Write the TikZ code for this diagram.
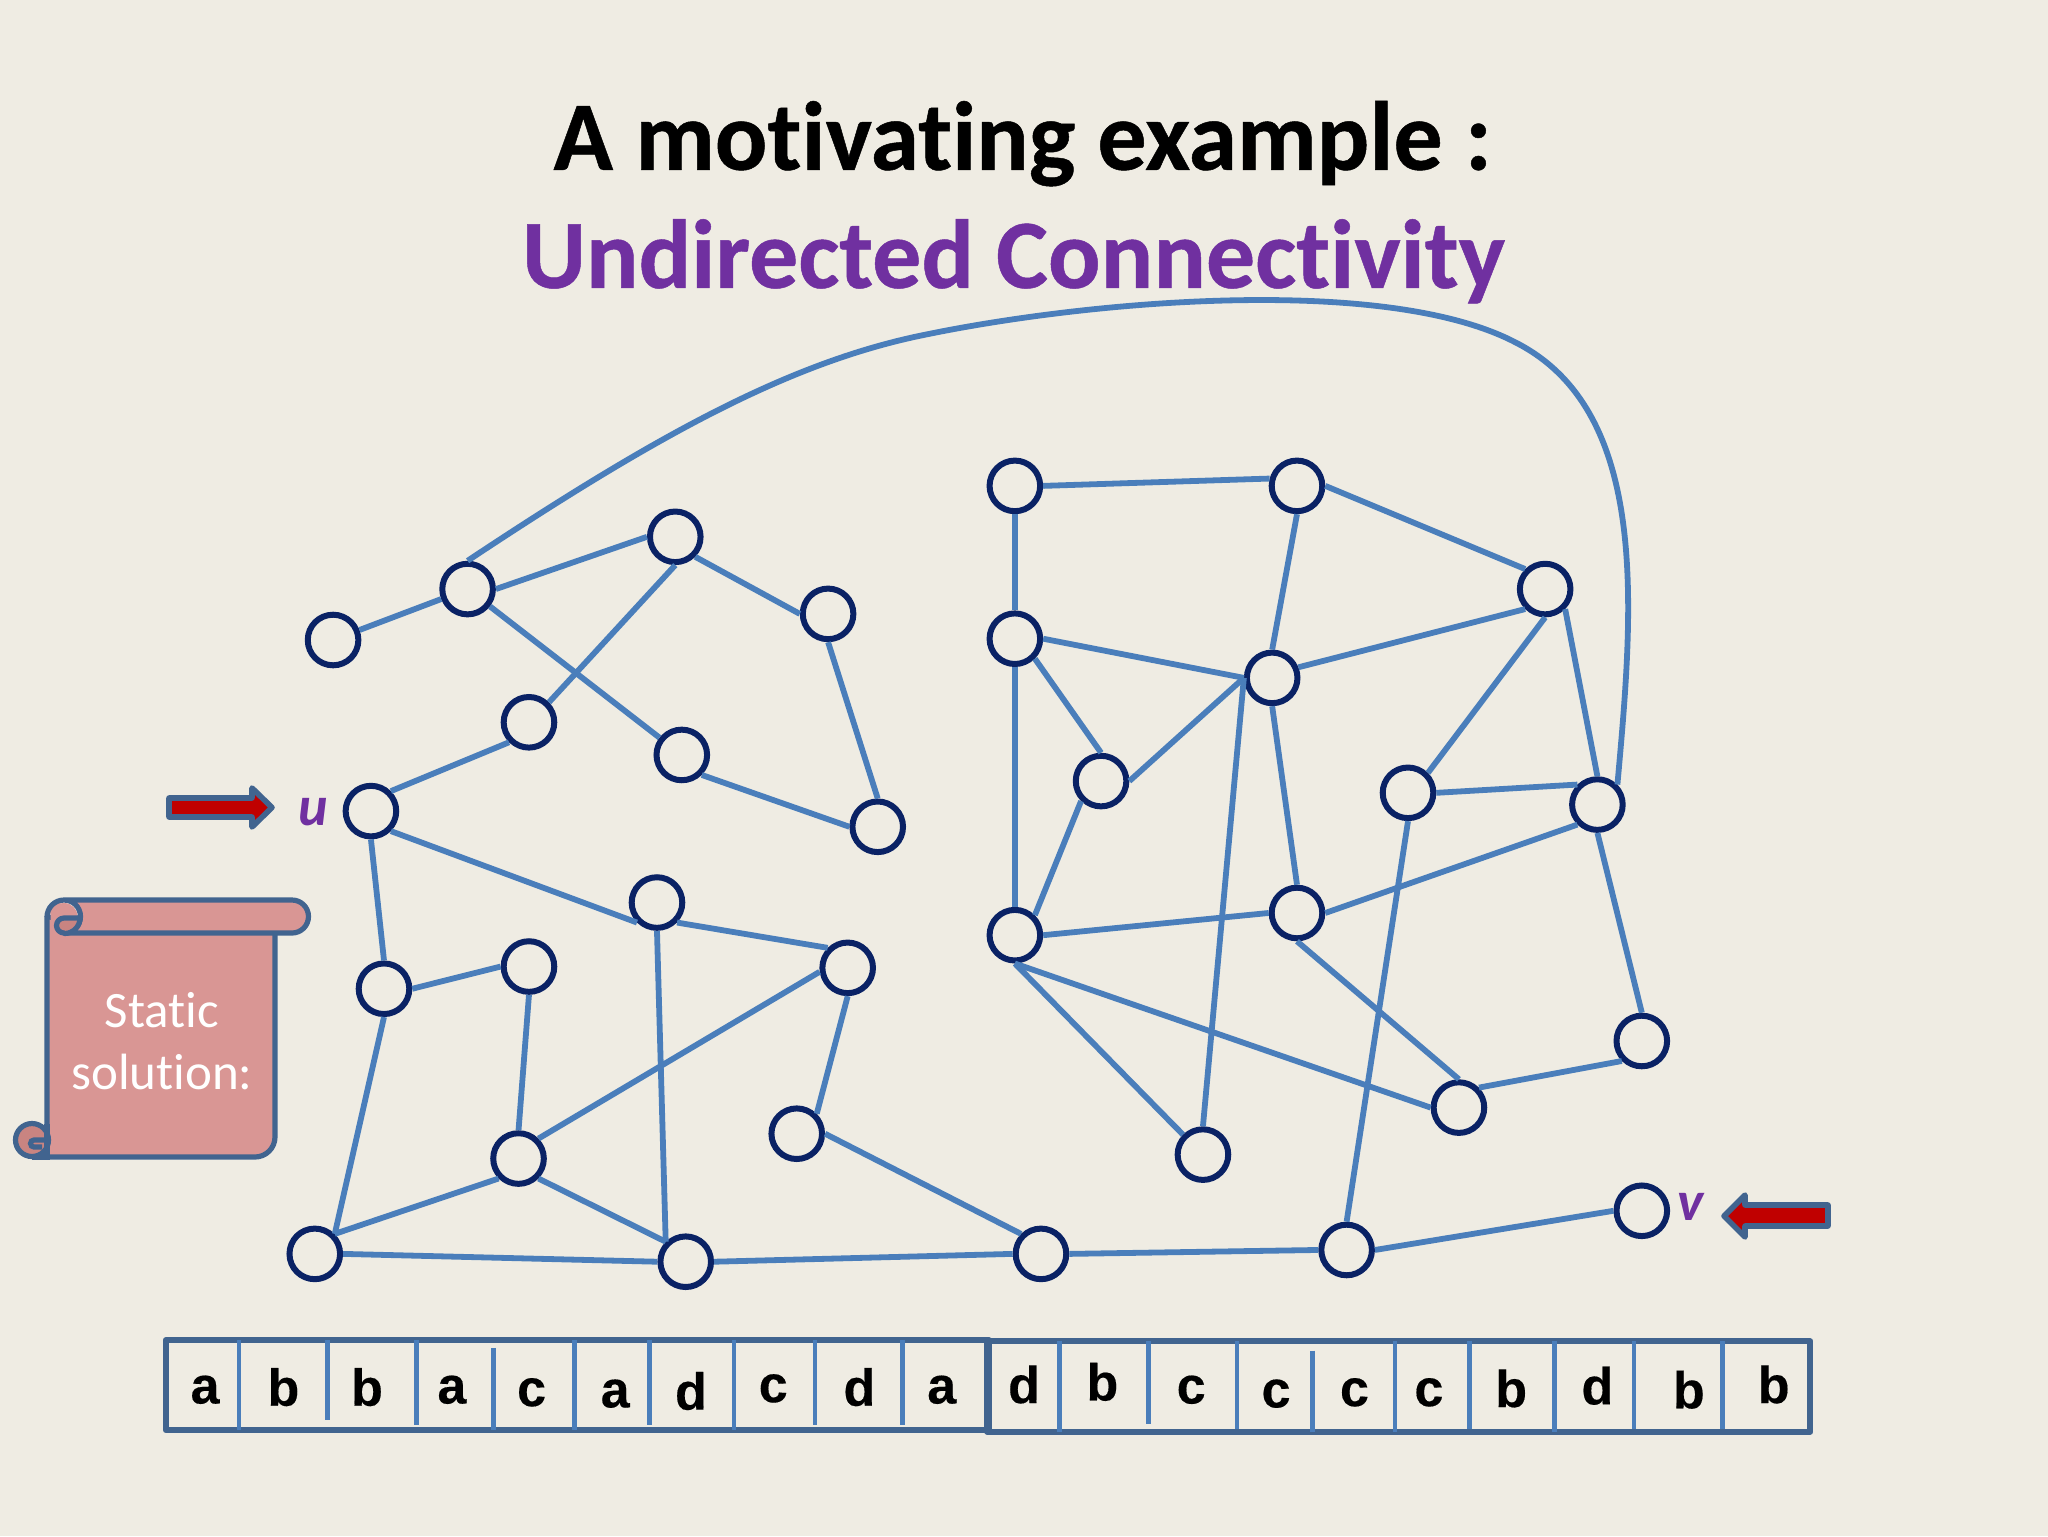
\documentclass[tikz,border=0pt]{standalone}
\usepackage{fontspec}
\setmainfont[Ligatures=NoCommon]{Carlito}
\newfontfamily\titlefont[Ligatures=NoCommon,BoldFeatures={FakeBold=0.5}]{Carlito}
\newfontfamily\arialfont[BoldFeatures={FakeBold=0.3}]{Liberation Sans}
\definecolor{bgc}{HTML}{EFECE3}
\definecolor{edgec}{HTML}{4A7EBB}
\definecolor{ringc}{HTML}{0A2265}
\definecolor{framec}{HTML}{41648F}
\definecolor{scrollc}{HTML}{D99694}
\definecolor{scrolld}{HTML}{C98481}
\definecolor{redc}{HTML}{C00000}
\definecolor{purp}{HTML}{7030A0}
\tikzset{
  vert/.style={circle,draw=ringc,line width=3pt,fill=bgc,minimum size=25.3pt,inner sep=0pt},
  link/.style={draw=edgec,line width=2.9pt},
  tapebox/.style={draw=framec,line width=3pt,line join=round},
  divider/.style={draw=edgec,line width=2.4pt},
  letter/.style={font=\arialfont\bfseries\fontsize{26}{26}\selectfont,inner sep=0pt,text=black},
  scrollshape/.style={draw=framec,line width=2.6pt,fill=scrollc,line join=round},
  fatarrow/.style={draw=framec,line width=2.8pt,fill=redc,line join=round},
  tag/.style={font=\bfseries\itshape\fontsize{28}{28}\selectfont,text=purp,inner sep=0pt},
  scrolltext/.style={font=\fontsize{25.5}{25.5}\selectfont,text=white,inner sep=0pt},
  titletext/.style={font=\titlefont\bfseries\fontsize{49}{49}\selectfont,inner sep=0pt},
}
\begin{document}
\begin{tikzpicture}[x=0.65306pt,y=-0.65306pt]
\useasboundingbox (0,0) rectangle (1568,1176);
\fill[bgc] (0,0) rectangle (1568,1176);
% title
\node[titletext,text=black] (title1) at (783,110) {A motivating example :};
\node[titletext,text=purp] (title2) at (776,200) {Undirected Connectivity};
% vertices
\foreach \n/\x/\y in {a1/255/490,a2/358/451,a3/517/411,a4/634/470,a5/405/553,a6/522/578,a7/672/633,u/284/621,
  b1/503/691,b2/649/741,b3/294/757,b4/405/740,b5/397/887,b6/610/868,b7/241/960,b8/525/966,
  c1/797/960,c2/1031/957,v/1257/927,
  r1/777/372,r2/993/372,r3/1183/451,r4/777/489,r5/974/519,r6/843/598,r7/1078/607,r8/1223/616,
  r9/777/716,r10/993/699,r11/1257/797,r12/1117/848,r13/921/884}
  \node[vert] (\n) at (\x,\y) {};
% edges
\foreach \p/\q in {a1/a2,a2.east/a3.west,a3.south east/a4.west,a2/a6,a3.south/a5.north east,a4.south/a7.north,
  a6.south east/a7.west,a5.south west/u.north east,u.south east/b1.south west,u.south/b3.north,b1.south east/b2.north west,
  b1.south/b8.north west,b2.188/b5.north east,b2.south/b6.north east,b3.east/b4.west,b3.south/b7.north east,
  b4.south/b5.north,b5.south west/b7.north east,b5.south east/b8.north west,b7.east/b8.west,b8.east/c1.west,
  b6.east/c1.north west,c1.east/c2.west,c2.east/v.west,c2.north/r7.south,
  r1.east/r2.165,r1.south/r4.north,r2.east/r3.north west,r2.south/r5.north,r4.east/r5.west,r4.south east/r6.north,
  r4.south/r9.north,r5.22/r3.south west,r5.west/r6.east,r5.south/r10.north,r5.west/r13.north,r3.south/r7.north east,
  r3.south east/r8.north,r6.south west/r9.north east,r7.east/r8.north west,r8.south west/r10.east,r8.south/r11.north,
  r9.east/r10.west,r9.south/r12.west,r9.south/r13.north west,r10.south/r12.north,r12.north east/r11.south west}
  \draw[link] (\p) -- (\q);
% long curve
\coordinate (cv1) at (700,258);
\coordinate (cv2) at (1160,262);
\draw[link] (a2.north) .. controls (500,335) and (600,280) .. (cv1)
  .. controls (830,230) and (1060,210) .. (cv2)
  .. controls (1265,315) and (1250,470) .. (r8.north east);
% scroll and arrows, in reference pixels (angles negated because y runs downward)
\begin{scope}[x=0.5pt,y=-0.5pt]
  \path[scrollshape] (47,917) -- (47,1157) -- (255,1157) arc[start angle=90,end angle=0,radius=20] -- (275,925) -- cycle;
  \path[scrollshape] (47,917) arc[start angle=-180,end angle=-90,radius=17] -- (292,900)
     arc[start angle=-90,end angle=90,radius=16.5] -- (64,933) arc[start angle=90,end angle=-90,radius=16.5];
  \fill[scrollc] (64,916.5) circle[radius=13.5];
  \path[draw=framec,line width=2.6pt,fill=scrolld,line join=round] (64,933) arc[start angle=90,end angle=270,radius=7.5]
     -- (80,918) arc[start angle=0,end angle=90,radius=15.5] -- cycle;
  \path[draw=framec,line width=2.6pt,fill=scrolld] (32,1140) circle[radius=16.5];
  \draw[framec,line width=2.6pt] (47,1140) -- (34,1140) arc[start angle=-90,end angle=-270,radius=3.5] -- (42,1147);
  \draw[framec,line width=2.6pt] (47,1124) -- (47,1157) -- (32,1157);
  \node[scrolltext] (s1) at (162,1010) {Static};
  \node[scrolltext] (s2) at (162,1072) {solution:};
  \path[fatarrow] (169,798) -- (252,798) -- (252,788) -- (272,807.5) -- (252,827) -- (252,817) -- (169,817) -- cycle;
  \path[fatarrow] (1828,1205) -- (1745,1205) -- (1745,1195) -- (1724,1216) -- (1745,1237) -- (1745,1226) -- (1828,1226) -- cycle;
  \node[tag] (lu) at (313,812) {u};
  \node[tag] (lv) at (1691,1207) {v};
\end{scope}
% tape
\draw[tapebox] (127,1026) rectangle (757,1095);
\draw[tapebox] (756,1027) rectangle (1386,1096);
\foreach \x/\t/\b in {183/1026/1095,251/1026/1087,319/1026/1091,378/1032/1095,440/1026/1095,497/1026/1091,562/1026/1095,624/1026/1091,691/1026/1091,
  811/1027/1096,879/1027/1090,947/1027/1094,1005/1034/1096,1068/1027/1096,1125/1027/1094,1190/1027/1096,1251/1027/1094,1319/1027/1094}
  \draw[divider] (\x,\t) -- (\x,\b);
\foreach \x/\y/\l [count=\i] in {157/1064/a,217/1062/b,281/1062/b,346/1064/a,407/1066/c,471/1067/a,529/1065/d,592/1063/c,658/1062/d,721/1064/a,
  784/1060/d,844/1058/b,912/1064/c,977/1067/c,1037/1066/c,1094/1066/c,1157/1063/b,1223/1061/d,1293/1064/b,1358/1060/b}
  \node[letter] (t\i) at (\x,\y) {\l};
\end{tikzpicture}
\end{document}
